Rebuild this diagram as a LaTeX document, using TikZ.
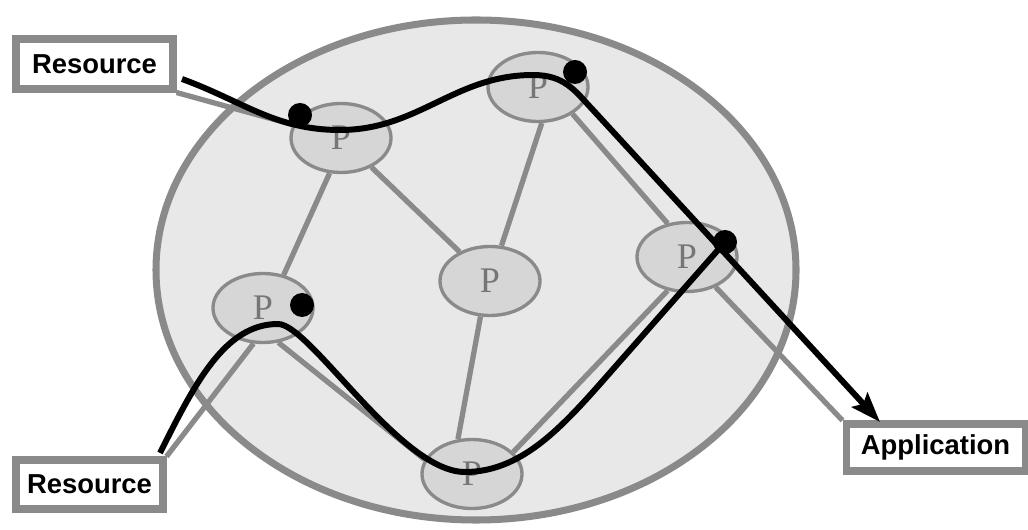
\documentclass[tikz,border=0pt]{standalone}
\usepackage{fontspec}
\usetikzlibrary{arrows.meta,positioning,shapes.geometric}
\newfontfamily\boxfont{Liberation Sans}
\newfontfamily\peerfont{Liberation Serif}
\definecolor{netfill}{RGB}{232,232,232}
\definecolor{peerfill}{RGB}{214,214,214}
\definecolor{netgray}{RGB}{138,138,138}
\definecolor{peertext}{RGB}{118,118,118}

\begin{document}
\begin{tikzpicture}[x=.2mm,y=.2mm,
    peer/.style={ellipse,draw=netgray,fill=peerfill,line width=1.9pt,
      minimum width=2cm,minimum height=1.38cm,inner sep=0pt,
      text=peertext,font=\peerfont\fontsize{20.5}{22}\selectfont},
    endbox/.style={draw=netgray,fill=white,line width=4pt,inner sep=0pt,
      font=\boxfont\bfseries\fontsize{15.6}{18}\selectfont},
    link/.style={netgray,line width=3pt},
    flow/.style={black,line width=3.4pt},
    hit/.style={circle,fill=black,inner sep=0pt,minimum size=.48cm}]
  \useasboundingbox (0,0) rectangle (1028,529);
  % overlay network
  \draw[netgray,fill=netfill,line width=4pt] (476,259) ellipse [x radius=320,y radius=250];
  \node[peer] (p1) at (341,391) {P};
  \node[peer] (p2) at (538,442) {P};
  \node[peer] (p3) at (687,272) {P};
  \node[peer] (p4) at (490,248) {P};
  \node[peer] (p5) at (263,221) {P};
  \node[peer] (p6) at (472,55) {P};
  % end points
  \node[endbox,minimum width=3.14cm,minimum height=1cm] (res1) at (94.5,465) {Resource};
  \node[endbox,minimum width=2.94cm,minimum height=.98cm] (res2) at (89.5,44.5) {Resource};
  \node[endbox,minimum width=3.58cm,minimum height=.94cm] (app) at (935.5,81.5) {Application};

  \draw[link] (p1.252) -- (p5.58);
  \draw[link] (p1) -- (p4);
  \draw[link] (p2.-84) -- (p4.72);
  \draw[link] (p2.-38) -- (p3.120);
  \draw[link] (p4.255) -- (p6.112);
  \draw[link] (p5.-66) -- (p6.163);
  \draw[link] (p3.240) -- (p6.28);
  \draw[link] (res1.south east) -- (p1);
  \draw[link] (p5.-105) -- (res2.north east);
  \draw[link] (p3) -- (app.north west);

  % data paths
  \coordinate (src1) at (182,450);
  \coordinate (src2) at (160,76);
  \coordinate (dst) at (880,107);
  \coordinate (end2) at (725,287);
  \draw[flow,-{Stealth[length=17pt,width=12pt,inset=3pt]}] (src1)
    to[out=-20,in=180] (340,399) to[out=0,in=180] (533,454)
    .. controls (565,454) and (575,438) .. (593,419) -- (dst);
  \draw[flow] (src2) .. controls (195,146) and (225,205) .. (278,205)
    .. controls (310,205) and (400,57) .. (465,57)
    .. controls (520,57) and (560,100) .. (600,145) -- (end2);
  \node[hit] (h1) at (300,414) {};
  \node[hit] (h2) at (575,457) {};
  \node[hit] (h3) at (end2) {};
  \node[hit] (h4) at (302,224) {};
\end{tikzpicture}
\end{document}
